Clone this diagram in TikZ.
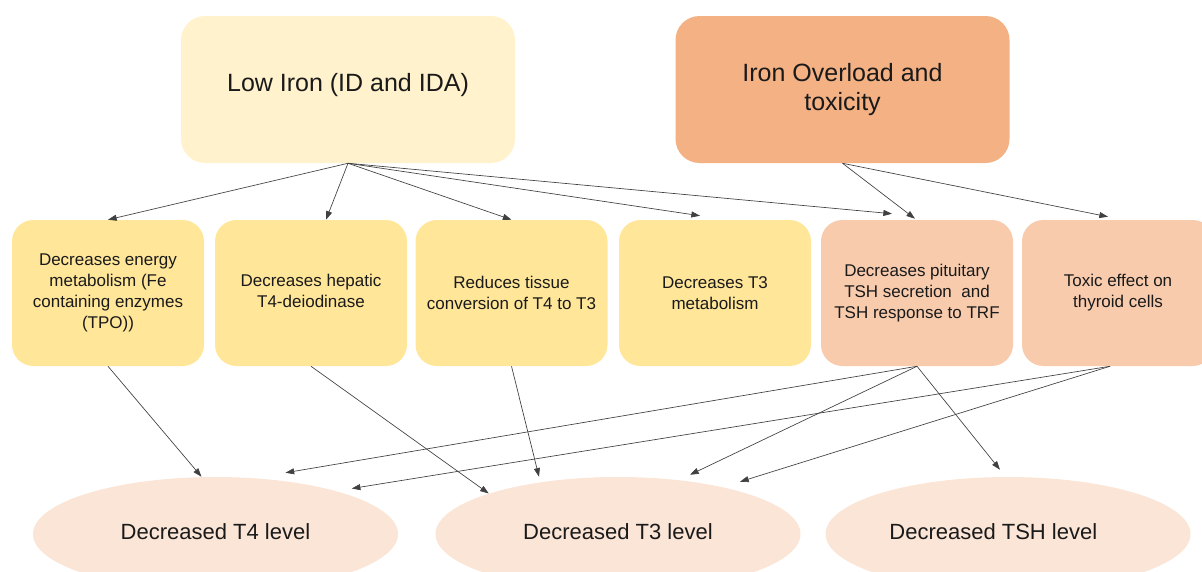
\documentclass[tikz,border=0pt]{standalone}
\usepackage{fontspec}
\setmainfont{Liberation Sans}
\usetikzlibrary{arrows.meta,calc,shapes.geometric}
\definecolor{lowfill}{HTML}{FFF2CC}
\definecolor{overfill}{HTML}{F4B183}
\definecolor{yelfill}{HTML}{FFE699}
\definecolor{peachfill}{HTML}{F8CBAD}
\definecolor{ellfill}{HTML}{FBE5D6}
\definecolor{arrowcol}{HTML}{404040}
\definecolor{txtcol}{HTML}{1A1A1A}
\tikzset{
  topbox/.style={rectangle, rounded corners=18pt, draw=none, minimum width=250.5pt, minimum height=110.25pt,
    align=center, text=txtcol, font=\fontsize{18.75pt}{21.75pt}\selectfont, inner sep=0pt},
  midbox/.style={rectangle, rounded corners=16pt, draw=none, minimum width=144pt, minimum height=109.5pt,
    align=center, text=txtcol, font=\fontsize{12.75pt}{15.75pt}\selectfont, inner sep=0pt},
  result/.style={ellipse, draw=none, fill=ellfill, minimum width=273.75pt, minimum height=85.5pt,
    text=txtcol, font=\fontsize{16.5pt}{19pt}\selectfont, inner sep=0pt},
  conn/.style={draw=arrowcol, line width=0.5pt, -{Triangle[length=6.5pt,width=4.5pt]}}
}
\begin{document}
\begin{tikzpicture}[x=0.75pt,y=-0.75pt]
\useasboundingbox (0,0) rectangle (1202,571);
% top boxes
\node[topbox, fill=lowfill] (low) at (348,89.5) {\raisebox{10pt}{Low Iron (ID and IDA)}};
\node[topbox, fill=overfill] (over) at (842.5,89.5) {Iron Overload and\\toxicity};
% middle boxes
\node[midbox, fill=yelfill] (b1) at (108,293) {Decreases energy\\metabolism (Fe\\containing enzymes\\(TPO))};
\node[midbox, fill=yelfill] (b2) at (311,293) {\raisebox{6pt}{\begin{tabular}{@{}c@{}}Decreases hepatic\\T4-deiodinase\end{tabular}}};
\node[midbox, fill=yelfill] (b3) at (511.5,293) {Reduces tissue\\conversion of T4 to T3};
\node[midbox, fill=yelfill] (b4) at (715,293) {Decreases T3\\metabolism};
\node[midbox, fill=peachfill] (b5) at (917,293) {Decreases pituitary\\TSH secretion\ \ and\\TSH response to TRF};
\node[midbox, fill=peachfill] (b6) at (1118,293) {Toxic effect on\\thyroid cells};
% results
\node[result] (t4) at (215.5,534) {\raisebox{4pt}{Decreased T4 level}};
\node[result] (t3) at (618,534) {\raisebox{4pt}{Decreased T3 level}};
\node[result] (tsh) at (1008,534) {\raisebox{4pt}{\hspace*{-22pt}Decreased TSH level}};
% arrows from Low Iron
\draw[conn] (low.south) -- (b1.north);
\draw[conn] (low.south) -- ($(b2.north)+(15,0)$);
\draw[conn] (low.south) -- (b3.north);
\draw[conn] (low.south) -- ($(b4.north)+(-15,-4)$);
\draw[conn] (low.south) -- ($(b5.north)+(-25,-6)$);
% arrows from Iron Overload
\draw[conn] (over.south) -- ($(b5.north)+(-2,-1)$);
\draw[conn] (over.south) -- ($(b6.north)+(-10,-3)$);
% arrows to results
\draw[conn] (b1.south) -- ($(t4.north)+(-14,0)$);
\draw[conn] (b2.south) -- (t3.north west);
\draw[conn] (b3.south) -- ($(t3.north)+(-79,0)$);
\draw[conn] (b5.south) -- ($(t4.north)+(70,-4)$);
\draw[conn] (b5.south) -- ($(t3.north)+(72,-2)$);
\draw[conn] (b5.south) -- ($(tsh.north)+(-8,-7)$);
\draw[conn] ($(b6.south)+(-8,0)$) -- ($(t4.north east)+(7,-5)$);
\draw[conn] ($(b6.south)+(-8,0)$) -- ($(t3.north)+(122,5)$);
\end{tikzpicture}
\end{document}
